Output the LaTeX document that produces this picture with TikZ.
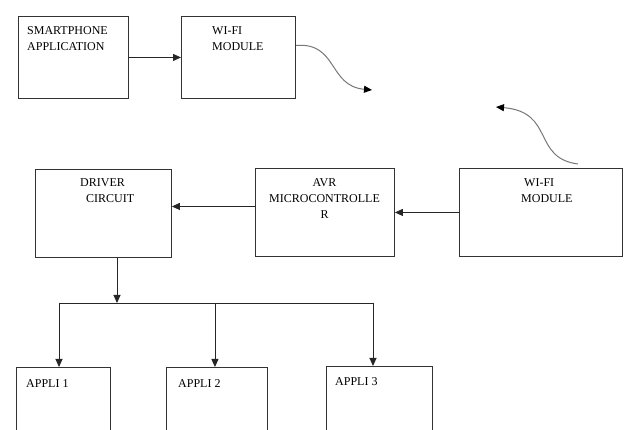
\documentclass[tikz,border=0pt]{standalone}
\usepackage{fontspec}
\setmainfont{Liberation Serif}
\usepackage{tikz}
\usetikzlibrary{arrows.meta,positioning}
\definecolor{boxline}{HTML}{333333}
\definecolor{wave}{HTML}{777777}

\begin{document}
\begin{tikzpicture}[x=1pt,y=-1pt,font=\fontsize{12}{16}\selectfont,
  blk/.style={draw=boxline,line width=0.9pt,anchor=north west,inner sep=0pt},
  txt/.style={anchor=north west,inner sep=0pt,align=left},
  arr/.style={draw=black!85,line width=0.9pt,-{Triangle[length=8pt,width=7pt]}},
  wavy/.style={draw=wave,line width=1pt,-{Triangle[length=8pt,width=7pt,color=black]}}]
\clip (0,0) rectangle (624,430);
% top row
\node[blk,minimum width=110pt,minimum height=82pt] (phone) at (18,16) {};
\node[txt] (phonetxt) at (27,26) {SMARTPHONE\\APPLICATION};
\node[blk,minimum width=114pt,minimum height=82pt] (wifiA) at (181,16) {};
\node[txt] (wifiAtxt) at (212,26) {WI-FI\\MODULE};
\draw[arr] (phone) -- (wifiA);
\coordinate (sendend) at (372,90);
\draw[wavy] ([yshift=12pt]wifiA.east) .. controls (338,42) and (328,86) .. (sendend);

% middle row
\node[blk,minimum width=136pt,minimum height=88pt] (driver) at (35,169) {};
\node[txt] (drivertxt) at (80,178) {DRIVER\\\hspace{6pt}CIRCUIT};
\node[blk,minimum width=139pt,minimum height=88pt] (avr) at (255,168) {};
\node[txt,align=center,anchor=north] (avrtxt) at (324.5,178) {AVR\\MICROCONTROLLE\\R};
\node[blk,minimum width=163pt,minimum height=88pt] (wifiB) at (459,168) {};
\node[txt] (wifiBtxt) at (521,178) {\hspace{3pt}WI-FI\\MODULE};
\draw[arr] (wifiB.west) -- (wifiB.west -| avr.east);
\draw[arr] ([yshift=6pt]avr.west) -- ([yshift=6pt]avr.west -| driver.east);
\coordinate (recvend) at (496,107);
\draw[wavy] ([xshift=37pt,yshift=4pt]wifiB.north) .. controls (532,158) and (555,112) .. (recvend);

% bottom row
\node[blk,minimum width=94pt,minimum height=80pt] (app1) at (16,367) {};
\node[txt] (app1txt) at (26,379) {APPLI 1};
\node[blk,minimum width=101pt,minimum height=80pt] (app2) at (166,367) {};
\node[txt] (app2txt) at (178,379) {APPLI 2};
\node[blk,minimum width=106pt,minimum height=80pt] (app3) at (326,366) {};
\node[txt] (app3txt) at (335,377) {APPLI 3};
\coordinate (split) at (117,303);
\coordinate (busL) at (59,303);
\coordinate (busR) at (373,303);
\draw[arr] (split |- driver.south) -- (split);
\draw[draw=black!85,line width=0.9pt] (busL) -- (busR);
\draw[arr] (busL) -- (busL |- app1.north);
\draw[arr] ([xshift=-2pt]app2.north |- busL) -- ([xshift=-2pt]app2.north);
\draw[arr] (busR) -- (busR |- app3.north);
\end{tikzpicture}
\end{document}
